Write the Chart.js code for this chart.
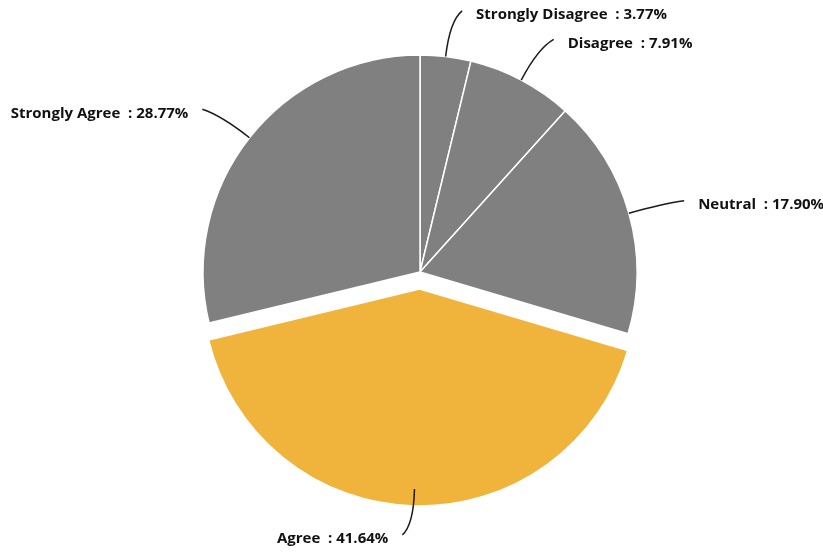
<!DOCTYPE html>
<html>
<head>
<meta charset="utf-8">
<script src="https://cdn.jsdelivr.net/npm/chart.js@4"></script>
<style>
  html, body { margin: 0; padding: 0; background: #fff; }
  #wrap { width: 823px; height: 552px; }
</style>
</head>
<body>
<div id="wrap"><canvas id="pieChart" width="823" height="552"></canvas></div>
<script>
// ===== data =====
const categories = ["Strongly Disagree", "Disagree", "Neutral", "Agree", "Strongly Agree"];
const shares = [3.77, 7.91, 17.90, 41.64, 28.77];
const sliceColors = ["#808080", "#808080", "#808080", "#F0B43C", "#808080"];
const explodePx = [0, 0, 0, 17, 0]; // "Agree" is pulled out of the pie

// move exploded slices out without growing their radius
// (chart.js' own "offset" also enlarges the arc)
const explodePlugin = {
    id: "explode",
    beforeDatasetsDraw(chart) {
        const meta = chart.getDatasetMeta(0);
        meta.data.forEach((arc, i) => {
            const d = explodePx[i];
            if (!d || arc._exploded) return;
            const baseDraw = arc.draw;
            arc.draw = function (ctx) {
                const mid = (this.startAngle + this.endAngle) / 2;
                ctx.save();
                ctx.translate(Math.cos(mid) * d, Math.sin(mid) * d);
                baseDraw.call(this, ctx);
                ctx.restore();
            };
            arc._exploded = true;
        });
    }
};

// leader lines + outside labels
const calloutPlugin = {
    id: "callouts",
    afterDatasetsDraw(chart) {
        const ctx = chart.ctx;
        const meta = chart.getDatasetMeta(0);
        ctx.save();
        meta.data.forEach((arc, i) => {
            const mid = (arc.startAngle + arc.endAngle) / 2;
            const r = arc.outerRadius;
            const cx = arc.x, cy = arc.y;
            const cos = Math.cos(mid), sin = Math.sin(mid);
            const right = cos >= 0;
            const side = right ? 1 : -1;

            const p0 = { x: cx + r * cos, y: cy + r * sin };
            const c1 = { x: cx + (r + 36) * cos, y: cy + (r + 36) * sin };
            const end = { x: cx + (r + 46) * cos + side * 11, y: cy + (r + 46) * sin };

            ctx.beginPath();
            ctx.moveTo(p0.x, p0.y);
            ctx.quadraticCurveTo(c1.x, c1.y, end.x, end.y);
            ctx.strokeStyle = "#1a1a1a";
            ctx.lineWidth = 1.5;
            ctx.stroke();

            const text = categories[i] + "  : " + shares[i].toFixed(2) + "%";
            ctx.font = "bold 15px 'Open Sans', 'Noto Sans', sans-serif";
            ctx.fillStyle = "#111";
            ctx.textBaseline = "middle";
            ctx.textAlign = right ? "left" : "right";
            ctx.fillText(text, end.x + side * 14, end.y + 4);
        });
        ctx.restore();
    }
};

const ctx = document.getElementById("pieChart").getContext("2d");
new Chart(ctx, {
    type: "pie",
    data: {
        labels: categories,
        datasets: [{
            data: shares,
            backgroundColor: sliceColors,
            borderColor: "#ffffff",
            borderWidth: 1.5
        }]
    },
    options: {
        responsive: false,
        animation: false,
        events: [],
        radius: 217,
        layout: { padding: { left: 17, right: 0, top: 0, bottom: 8 } },
        plugins: {
            legend: { display: false },
            tooltip: { enabled: false }
        }
    },
    plugins: [explodePlugin, calloutPlugin]
});
</script>
</body>
</html>
